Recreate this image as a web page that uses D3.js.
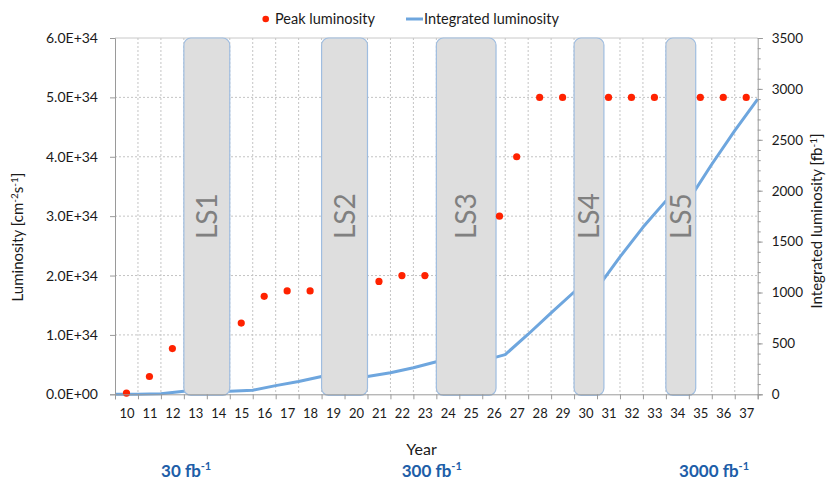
<!DOCTYPE html>
<html>
<head>
<meta charset="utf-8">
<script src="https://cdnjs.cloudflare.com/ajax/libs/d3/7.8.5/d3.min.js"></script>
<style>
  body { margin: 0; background: #fff; }
  svg { font-family: Lato, "Open Sans", sans-serif; }
</style>
</head>
<body>
<svg id="graph" width="826" height="481"></svg>
<script>
// years on the category axis
var years = d3.range(10, 38);

// peak luminosity, units of 1E34 cm-2 s-1
var peakYears = [10, 11, 12, 15, 16, 17, 18, 21, 22, 23, 26.25, 27, 28, 29, 31, 32, 33, 35, 36, 37];
var peakValues = [0.02, 0.3, 0.77, 1.2, 1.65, 1.74, 1.74, 1.9, 2.0, 2.0, 3.0, 4.0, 5.0, 5.0, 5.0, 5.0, 5.0, 5.0, 5.0, 5.0];

// integrated luminosity at the end of each year [fb-1]
var intYears = d3.range(9, 38);
var intValues = [0, 0.05, 6, 29, 30, 30, 40, 85, 125, 175, 175, 175, 212, 261, 320, 322, 328, 390,
                 590, 800, 1005, 1040, 1350, 1640, 1900, 1910, 2260, 2590, 2900];

// long shutdowns: [name, from, to] in year units
var shutdowns = [["LS1", 12.5, 14.5], ["LS2", 18.5, 20.5], ["LS3", 23.5, 26.1],
                 ["LS4", 29.5, 30.8], ["LS5", 33.5, 34.8]];

var leftTicks = [0, 1, 2, 3, 4, 5, 6];
var leftLabels = ["0.0E+00", "1.0E+34", "2.0E+34", "3.0E+34", "4.0E+34", "5.0E+34", "6.0E+34"];
var rightTicks = d3.range(0, 3501, 500);

// totals written under the axis: [text, year]
var totals = [["30", 12.6], ["300", 23.3], ["3000", 35.6]];

var svg = d3.select("#graph");
var pLeft = 115, pRight = 757.7, pTop = 38, pBottom = 394.3;

var x = d3.scaleLinear().domain([9.5, 37.5]).range([pLeft, pRight]);
var yL = d3.scaleLinear().domain([0, 6]).range([pBottom, pTop]);
var yR = d3.scaleLinear().domain([0, 3500]).range([pBottom, pTop]);

// grid
svg.append("g").selectAll("line")
    .data(leftTicks.slice(1, -1))
    .enter().append("line")
    .attr("x1", pLeft).attr("x2", pRight)
    .attr("y1", function(d) { return yL(d); })
    .attr("y2", function(d) { return yL(d); })
    .attr("stroke", "#c4c4c4").attr("stroke-dasharray", "2,2");

svg.append("g").selectAll("line")
    .data(d3.range(10.5, 37.5))
    .enter().append("line")
    .attr("x1", function(d) { return x(d); })
    .attr("x2", function(d) { return x(d); })
    .attr("y1", pTop).attr("y2", pBottom)
    .attr("stroke", "#c4c4c4").attr("stroke-dasharray", "2,2");

svg.append("line")
    .attr("x1", pLeft).attr("x2", pRight).attr("y1", pTop).attr("y2", pTop)
    .attr("stroke", "#c8c8c8");

// integrated luminosity line
var line = d3.line()
    .x(function(d, i) { return x(intYears[i] + 0.5); })
    .y(function(d) { return yR(d); });

svg.append("path")
    .datum(intValues)
    .attr("d", line)
    .attr("fill", "none")
    .attr("stroke", "#6ea6de")
    .attr("stroke-width", 3)
    .attr("stroke-linejoin", "round");

// shutdown boxes
var ls = svg.append("g").selectAll("g")
    .data(shutdowns)
    .enter().append("g");

ls.append("rect")
    .attr("x", function(d) { return x(d[1]); })
    .attr("y", pTop)
    .attr("width", function(d) { return x(d[2]) - x(d[1]); })
    .attr("height", pBottom - pTop + 1)
    .attr("rx", 7)
    .attr("fill", "#dedede")
    .attr("stroke", "#9fbde0")
    .attr("stroke-width", 1.2);

ls.append("text")
    .attr("transform", function(d) {
        return "translate(" + ((x(d[1]) + x(d[2])) / 2) + "," + ((pTop + pBottom) / 2) + ") rotate(-90)";
    })
    .attr("text-anchor", "middle")
    .attr("dy", "0.36em")
    .attr("font-size", 28)
    .attr("fill", "#808080")
    .text(function(d) { return d[0]; });

// peak points
svg.append("g").selectAll("circle")
    .data(peakValues)
    .enter().append("circle")
    .attr("cx", function(d, i) { return x(peakYears[i]); })
    .attr("cy", function(d) { return yL(d); })
    .attr("r", 3.6)
    .attr("fill", "#ff2200");

// axes
var axisL = svg.append("g")
    .attr("transform", "translate(" + pLeft + ",0)")
    .call(d3.axisLeft(yL).tickValues(leftTicks).tickSize(5).tickPadding(12)
        .tickFormat(function(d, i) { return leftLabels[i]; }));

var axisR = svg.append("g")
    .attr("transform", "translate(" + pRight + ",0)")
    .call(d3.axisRight(yR).tickValues(rightTicks).tickSize(5).tickPadding(9).tickFormat(d3.format("d")));

svg.append("g")
    .attr("transform", "translate(" + pRight + ",0)")
    .call(d3.axisRight(yR).tickValues(d3.range(0, 3501, 100)).tickSize(3).tickFormat(""))
    .select(".domain").remove();

var axisB = svg.append("g")
    .attr("transform", "translate(0," + pBottom + ")")
    .call(d3.axisBottom(x).tickValues(d3.range(9.5, 38)).tickSize(5).tickFormat(""));

svg.append("g")
    .attr("transform", "translate(0," + pBottom + ")")
    .call(d3.axisBottom(x).tickValues(years).tickSize(0).tickPadding(14).tickFormat(d3.format("d")))
    .call(function(g) { g.select(".domain").remove(); })
    .selectAll("text").attr("font-size", 13);

svg.selectAll(".domain, .tick line").attr("stroke", "#9a9a9a");
svg.selectAll(".tick text").attr("fill", "#1a1a1a").attr("font-family", "Lato, sans-serif");
axisL.selectAll("text").attr("font-size", 14);
axisR.selectAll("text").attr("font-size", 13.5);

// titles
svg.append("text")
    .attr("x", 421.5).attr("y", 455)
    .attr("text-anchor", "middle")
    .attr("font-size", 16)
    .attr("fill", "#1a1a1a")
    .text("Year");

var tl = svg.append("text")
    .attr("transform", "translate(23,237) rotate(-90)")
    .attr("text-anchor", "middle")
    .attr("font-size", 15)
    .attr("fill", "#1a1a1a");
tl.append("tspan").text("Luminosity [cm");
tl.append("tspan").attr("dy", -5).attr("font-size", 10).text("-2");
tl.append("tspan").attr("dy", 5).text("s");
tl.append("tspan").attr("dy", -5).attr("font-size", 10).text("-1");
tl.append("tspan").attr("dy", 5).text("]");

var tr = svg.append("text")
    .attr("transform", "translate(822,221) rotate(-90)")
    .attr("text-anchor", "middle")
    .attr("font-size", 15)
    .attr("fill", "#1a1a1a");
tr.append("tspan").text("Integrated luminosity [fb");
tr.append("tspan").attr("dy", -5).attr("font-size", 10).text("-1");
tr.append("tspan").attr("dy", 5).text("]");

// totals
totals.forEach(function(t) {
    var txt = svg.append("text")
        .attr("x", x(t[1])).attr("y", 477)
        .attr("text-anchor", "middle")
        .attr("font-size", 17)
        .attr("font-weight", "bold")
        .attr("fill", "#1d5ea8");
    txt.append("tspan").text(t[0] + " fb");
    txt.append("tspan").attr("dy", -7).attr("font-size", 11).text("-1");
});

// legend
svg.append("circle").attr("cx", 265.7).attr("cy", 19).attr("r", 3.3).attr("fill", "#ff2200");
svg.append("text").attr("x", 275).attr("y", 24).attr("font-size", 14.5).attr("fill", "#1a1a1a")
    .text("Peak luminosity");
svg.append("line").attr("x1", 406).attr("x2", 423).attr("y1", 19).attr("y2", 19)
    .attr("stroke", "#6ea6de").attr("stroke-width", 3);
svg.append("text").attr("x", 424).attr("y", 24).attr("font-size", 14.5).attr("fill", "#1a1a1a")
    .text("Integrated luminosity");
</script>
</body>
</html>
